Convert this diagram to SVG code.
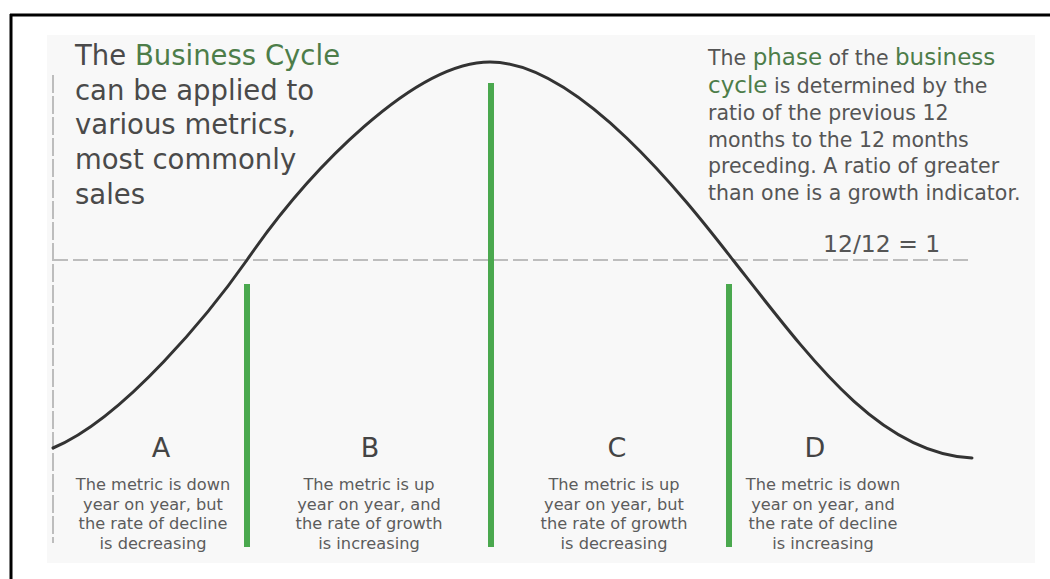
<svg xmlns="http://www.w3.org/2000/svg" width="1050" height="579" viewBox="0 0 1050 579">
<style>
.t{font-family:"DejaVu Sans","Verdana",sans-serif;}
.big{font-size:27.5px;fill:#4a4a4a;}
.side{font-size:20.5px;fill:#555;}
.g{fill:#4d7d49;}
.gs{fill:#4d7d49;font-size:23px;}
.letter{font-size:27px;fill:#444;text-anchor:middle;}
.desc{font-size:16.2px;fill:#5c5c5c;text-anchor:middle;}
.ratio{font-size:23.5px;fill:#555;}
.bar{stroke:#4aa84e;stroke-width:6;}
.dash{stroke:#bdbdbd;stroke-width:2;fill:none;}
</style>
<rect x="0" y="0" width="1050" height="579" fill="#ffffff"/>
<path d="M10 15 H1050 M11 14 V579" stroke="#000" stroke-width="3" fill="none"/>
<rect x="47" y="35" width="988" height="528" fill="#f8f8f8"/>
<g id="axes">
<line class="dash" x1="53" y1="75" x2="53" y2="543" stroke-dasharray="18 3"/>
<line class="dash" x1="53" y1="260" x2="970" y2="260" stroke-dasharray="15 5"/>
</g>
<g id="curve">
<path d="M53 448 C125 418 212 310 247 260 C310 168.6 415 62 490 62 C580 62 690 205 733 260 C813 362 880 454 972 458" fill="none" stroke="#333" stroke-width="3" stroke-linecap="round"/>
</g>
<g id="connectors">
<line class="bar" x1="247" y1="284" x2="247" y2="547"/>
<line class="bar" x1="491" y1="83" x2="491" y2="547"/>
<line class="bar" x1="729" y1="284" x2="729" y2="547"/>
</g>
<g id="intro" class="t big">
<text x="75" y="65">The <tspan class="g">Business Cycle</tspan></text>
<text x="75" y="100">can be applied to</text>
<text x="75" y="134">various metrics,</text>
<text x="75" y="169">most commonly</text>
<text x="75" y="204">sales</text>
</g>
<g id="phase-note" class="t side">
<text x="708" y="65">The <tspan class="gs">phase</tspan> of the <tspan class="gs">business</tspan></text>
<text x="708" y="93"><tspan class="gs">cycle</tspan> is determined by the</text>
<text x="708" y="120">ratio of the previous 12</text>
<text x="708" y="147">months to the 12 months</text>
<text x="708" y="173">preceding. A ratio of greater</text>
<text x="708" y="200">than one is a growth indicator.</text>
</g>
<g id="ratio" class="t ratio"><text x="823" y="252">12/12 = 1</text></g>
<g id="phase-A" class="t">
<text class="letter" x="161" y="457">A</text>
<text class="desc" x="153" y="490">The metric is down</text>
<text class="desc" x="153" y="509.5">year on year, but</text>
<text class="desc" x="153" y="529">the rate of decline</text>
<text class="desc" x="153" y="548.5">is decreasing</text>
</g>
<g id="phase-B" class="t">
<text class="letter" x="370" y="457">B</text>
<text class="desc" x="369" y="490">The metric is up</text>
<text class="desc" x="369" y="509.5">year on year, and</text>
<text class="desc" x="369" y="529">the rate of growth</text>
<text class="desc" x="369" y="548.5">is increasing</text>
</g>
<g id="phase-C" class="t">
<text class="letter" x="617" y="457">C</text>
<text class="desc" x="614" y="490">The metric is up</text>
<text class="desc" x="614" y="509.5">year on year, but</text>
<text class="desc" x="614" y="529">the rate of growth</text>
<text class="desc" x="614" y="548.5">is decreasing</text>
</g>
<g id="phase-D" class="t">
<text class="letter" x="815" y="457">D</text>
<text class="desc" x="823" y="490">The metric is down</text>
<text class="desc" x="823" y="509.5">year on year, and</text>
<text class="desc" x="823" y="529">the rate of decline</text>
<text class="desc" x="823" y="548.5">is increasing</text>
</g>
</svg>
